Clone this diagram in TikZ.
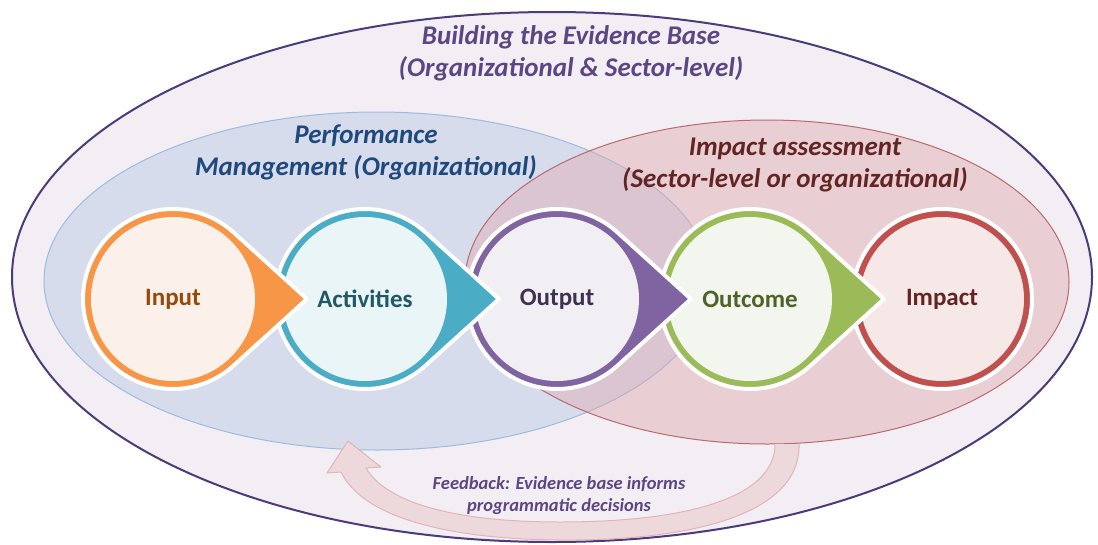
\documentclass[tikz,border=0pt]{standalone}
\usepackage{fontspec}
\setmainfont{Carlito}
\usetikzlibrary{calc}
\definecolor{outerline}{HTML}{4B3B7A}
\definecolor{outerfill}{HTML}{F3EEF3}
\definecolor{bluefill}{HTML}{D6DCEB}
\definecolor{blueline}{HTML}{9DBBE0}
\definecolor{redfill}{HTML}{DFAAB0}
\definecolor{redline}{HTML}{B86A6C}
\definecolor{hdrcol}{HTML}{5B4684}
\definecolor{perfcol}{HTML}{1F497D}
\definecolor{impcol}{HTML}{632523}
\definecolor{arrfill}{HTML}{EDD8DC}
\definecolor{arrline}{HTML}{E2B4BA}
\definecolor{cInput}{HTML}{F79646}
\definecolor{tInput}{HTML}{FBF1EA}
\definecolor{xInput}{HTML}{984807}
\definecolor{cAct}{HTML}{4BACC6}
\definecolor{tAct}{HTML}{E9F5F7}
\definecolor{xAct}{HTML}{215868}
\definecolor{cOut}{HTML}{8064A2}
\definecolor{tOut}{HTML}{F2EFF4}
\definecolor{xOut}{HTML}{3F3151}
\definecolor{cOutc}{HTML}{9BBB59}
\definecolor{tOutc}{HTML}{F3F6EE}
\definecolor{xOutc}{HTML}{4F6228}
\definecolor{cImp}{HTML}{C0504D}
\definecolor{tImp}{HTML}{F7E8E8}
\definecolor{xImp}{HTML}{632523}
\tikzset{
  lbl/.style={font=\fontsize{25}{28}\selectfont\bfseries},
  ttl/.style={font=\fontsize{27}{32}\selectfont\bfseries\itshape, align=center},
  fbk/.style={font=\fontsize{18.5}{22}\selectfont\bfseries\itshape, align=center, text=hdrcol},
}
% #1 centre x, #2 ring colour, #3 tint, #4 label, #5 text colour, #6 node name
\newcommand\tdrop[6]{%
  \begin{scope}[shift={(#1,299)}]
    \path[fill=#2, draw=white, line width=4, line join=round]
      (134,0) -- (47.8:90) arc[start angle=47.8, end angle=312.2, radius=90] -- cycle;
    \fill[#3] (0,0) circle[radius=82];
    \node[lbl, text=#5] (#6) at (0,0) {#4};
  \end{scope}}
\begin{document}
\begin{tikzpicture}[x=1pt,y=-1pt]
\useasboundingbox[fill=white] (0,0) rectangle (1098,544);
% outer ellipse
\draw[outerline, line width=2, fill=outerfill] (552,277) ellipse [x radius=540, y radius=265];
% performance management ellipse
\draw[blueline, line width=1, fill=bluefill] (377,281) ellipse [x radius=333, y radius=169];
% impact assessment ellipse
\fill[redfill, opacity=0.45] (767,282) ellipse [x radius=302, y radius=162];
\draw[redline, line width=1] (767,282) ellipse [x radius=302, y radius=162];
% feedback arrow
\draw[arrline, fill=arrfill, line width=1, line join=round]
  (799,444) .. controls (801,515) and (690,541) .. (560,540)
  .. controls (440,539) and (362,515) .. (341,472)
  -- (327,473) -- (348,441) -- (381,467) -- (366,468)
  .. controls (386,502) and (452,522) .. (560,522)
  .. controls (680,522) and (775,500) .. (775,444);
% titles
\node[ttl, text=hdrcol] (hdr) at (571,53) {Building the Evidence Base\\(Organizational \& Sector-level)};
\node[ttl, text=perfcol] (perf) at (366,152) {Performance\\Management (Organizational)};
\node[ttl, text=impcol] (imp) at (795,165) {Impact assessment\\(Sector-level or organizational)};
\node[fbk] (fb) at (559,496) {Feedback: Evidence base informs\\programmatic decisions};
% circles, right to left
\begin{scope}[shift={(942,299)}]
  \path[fill=cImp, draw=white, line width=4] (0,0) circle[radius=90];
  \fill[tImp] (0,0) circle[radius=82];
  \node[lbl, text=xImp] (impact) at (0,0) {Impact};
\end{scope}
\tdrop{750}{cOutc}{tOutc}{Outcome}{xOutc}{outcome}
\tdrop{557}{cOut}{tOut}{Output}{xOut}{output}
\tdrop{365}{cAct}{tAct}{Activities}{xAct}{activities}
\tdrop{173}{cInput}{tInput}{Input}{xInput}{input}
\end{tikzpicture}
\end{document}
